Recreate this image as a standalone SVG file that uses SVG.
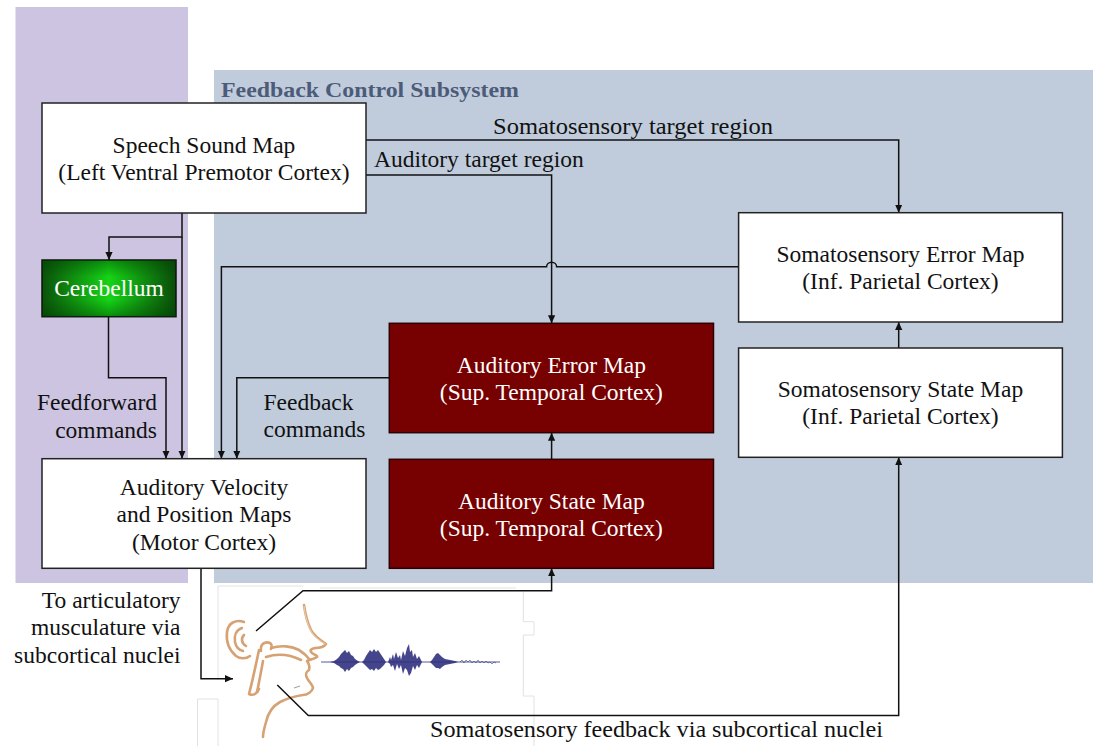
<svg xmlns="http://www.w3.org/2000/svg" width="1093" height="746" viewBox="0 0 1093 746">
<style>
.t{font-family:"Liberation Serif","Times New Roman",serif;font-size:23.5px;fill:#111;}
.w{fill:#fff;}
.m{text-anchor:middle;}
.e{text-anchor:end;}
.box{fill:#fff;stroke:#222;stroke-width:1.5;}
.red{fill:#770000;stroke:#2a0000;stroke-width:1.5;}
.c{fill:none;stroke:#111;stroke-width:1.5;}
.ca{fill:none;stroke:#111;stroke-width:1.5;marker-end:url(#ah);}
.head{fill:none;stroke:#d6a274;stroke-width:2.6;stroke-linecap:round;stroke-linejoin:round;}
.headin{fill:none;stroke:#f1dcc4;stroke-width:0.8;stroke-linecap:round;}
.faint{fill:none;stroke:#e2e2e2;stroke-width:1;}
.wave{fill:#2b2b7c;opacity:0.88;}
</style>
<defs>
<marker id="ah" markerWidth="8" markerHeight="8" refX="8" refY="4" orient="auto" markerUnits="userSpaceOnUse">
<path d="M0,0.4 L8,4 L0,7.6 z" fill="#111"/>
</marker>
<linearGradient id="gH" x1="0" y1="0" x2="1" y2="0">
<stop offset="0" stop-color="#0a520a"/>
<stop offset="0.5" stop-color="#16d416"/>
<stop offset="1" stop-color="#0a4c0a"/>
</linearGradient>
<linearGradient id="gV" x1="0" y1="0" x2="0" y2="1">
<stop offset="0" stop-color="#003a00" stop-opacity="0.45"/>
<stop offset="0.3" stop-color="#003a00" stop-opacity="0"/>
<stop offset="0.7" stop-color="#003a00" stop-opacity="0"/>
<stop offset="1" stop-color="#003a00" stop-opacity="0.45"/>
</linearGradient>
</defs>

<rect width="1093" height="746" fill="#fff"/>

<g id="panels">
<rect x="15.5" y="7" width="172.5" height="576" fill="#cdc4e2"/>
<rect x="214" y="70" width="879" height="513" fill="#c0ccdc"/>
<text x="221" y="97" font-family="Liberation Serif, Times New Roman, serif" font-size="21" font-weight="bold" fill="#4c5b78" textLength="298" lengthAdjust="spacingAndGlyphs">Feedback Control Subsystem</text>
</g>

<g id="head-image">
<path class="faint" d="M218,586 H303 M320,588 H516 M218,586 V680 M197.5,699 H218 M218,699 V746 M197.5,699 V746 M523.3,591.7 V621.7 H534 V635 H523.3 V696 H534 V746"/>
<!-- ear -->
<path class="head" d="M244,622 C236,619 228,623 227,632 C226,641 229,650 236,656 C240,659 246,659 250,656"/>
<path class="head" d="M242,628 C236,630 234,636 235,642 C236,647 239,650 243,651"/>
<path class="head" d="M244,635 C241,638 241,643 246,646"/>
<!-- profile -->
<path class="head" d="M304,605 C305,612 306,620 311,630 C314,636 320,640 326,644 C324,647 320,648 315,648 C311,649 309,650 312,653 C315,655 318,656 317,657 C314,659 309,660 307,661 C309,664 310,667 309,670 C306,672 305,674 307,678 C309,682 313,685 313,688 C312,692 307,695 303,695 C296,696 288,698 280,702 C273,706 268,713 266,722 C264,729 263,734 263,737"/>
<path class="headin" d="M304,606 C305,613 306,621 311,631 C314,637 320,641 325,644"/>
<!-- vocal tract -->
<path class="head" d="M261,651 C260,644 265,641 270,643 C272,644 272,647 271,649"/>
<path class="head" d="M271,648 C281,645 292,646 299,650 C304,653 307,656 310,660"/>
<path class="head" d="M266,657 C278,653 291,655 301,660"/>
<path class="head" d="M259,650 C256,664 253,679 249,694 C253,696 257,694 259,689"/>
<path class="head" d="M263,661 C261,672 259,683 257,692"/>
<path d="M294,688 L300,686" stroke="#9aa" stroke-width="1.2" fill="none"/>
<!-- waveform -->
<path d="M321,662 H500" stroke="#2b2b7c" stroke-width="1.2" fill="none" opacity="0.8"/>
<polygon class="wave" points="330,662 334,661 337,659 339,657 341,654 343,652 345,650 347,653 349,651 351,655 353,656 355,659 358,661 360,662 358,663 355,665 353,667 351,668 349,671 347,669 345,672 343,669 341,668 339,666 337,665 334,663"/>
<polygon class="wave" points="362,662 364,660 366,656 368,653 370,650 372,652 374,649 376,652 378,650 380,653 382,656 384,659 386,662 384,665 382,667 380,669 378,670 376,668 374,671 372,669 370,670 368,668 366,666 364,664"/>
<polygon class="wave" points="388,662 390,657 391,660 393,654 394,659 396,652 398,658 400,655 401,660 403,651 405,656 407,648 409,644 410,652 412,650 413,657 415,653 417,659 419,656 421,660 422,662 421,664 419,668 417,665 415,670 413,666 411,673 409,676 407,670 405,668 403,674 401,665 399,669 397,664 395,671 393,665 391,667 390,664"/>
<polygon class="wave" points="430,662 432,660 434,657 436,654 438,653 440,655 442,657 445,659 450,660 455,661 458,662 455,663 450,664 445,665 442,667 440,669 438,668 436,668 434,666 432,664"/>
<path d="M460,662 l2,-2 l2,3 l2,-3 l2,2 l2,-2 l2,3 l2,-2 l2,2 l2,-3 l2,3 l2,-2 l2,2 l2,-2 l2,2 l2,-1 l2,2 l2,-2 l2,1" stroke="#2b2b7c" stroke-width="0.9" fill="none" opacity="0.6"/>
</g>

<g id="connectors">
<path class="ca" d="M366,140 H898.7 V212.7"/>
<path class="ca" d="M366,175 H551.6 V323.3"/>
<path class="ca" d="M182,213 V237 H109 V260"/>
<path class="ca" d="M182,237 V458.7"/>
<path class="ca" d="M108.5,316.7 V377.7 H166 V458.7"/>
<path class="ca" d="M738.6,266.7 H556.6 A5,4.5 0 0 0 546.6,266.7 H221.4 V458.7"/>
<path class="ca" d="M389.3,377.7 H236.8 V458.7"/>
<path class="ca" d="M551.6,459.3 V432.7"/>
<path class="ca" d="M898.7,348 V322"/>
<path class="ca" d="M201,568.3 V678.7 H233"/>
<path class="ca" d="M256,631 L303,590.7 H551.6 V568.3"/>
<path class="ca" d="M277.3,685 L308.3,715.5 H898.7 V457.3"/>
</g>

<g id="speech-sound-map">
<rect class="box" x="42" y="103" width="324" height="110"/>
<text class="t m" x="204" y="153">Speech Sound Map</text>
<text class="t m" x="204" y="180">(Left Ventral Premotor Cortex)</text>
</g>

<g id="cerebellum">
<rect x="42" y="260" width="134" height="56.7" fill="url(#gH)" stroke="#111" stroke-width="1.5"/>
<rect x="42" y="260" width="134" height="56.7" fill="url(#gV)"/>
<text class="t m w" x="109" y="296">Cerebellum</text>
</g>

<g id="auditory-velocity-position-maps">
<rect class="box" x="42" y="458.7" width="324" height="109.6"/>
<text class="t m" x="204" y="495">Auditory Velocity</text>
<text class="t m" x="204" y="522">and Position Maps</text>
<text class="t m" x="204" y="550">(Motor Cortex)</text>
</g>

<g id="auditory-error-map">
<rect class="red" x="389.3" y="323.3" width="324.2" height="109.4"/>
<text class="t m w" x="551.4" y="372.5">Auditory Error Map</text>
<text class="t m w" x="551.4" y="400">(Sup. Temporal Cortex)</text>
</g>

<g id="auditory-state-map">
<rect class="red" x="389.3" y="459.3" width="324.2" height="109"/>
<text class="t m w" x="551.4" y="508.5">Auditory State Map</text>
<text class="t m w" x="551.4" y="535.5">(Sup. Temporal Cortex)</text>
</g>

<g id="somatosensory-error-map">
<rect class="box" x="738.6" y="212.7" width="323.8" height="109.3"/>
<text class="t m" x="900.5" y="262">Somatosensory Error Map</text>
<text class="t m" x="900.5" y="289">(Inf. Parietal Cortex)</text>
</g>

<g id="somatosensory-state-map">
<rect class="box" x="738.6" y="348" width="323.8" height="109.3"/>
<text class="t m" x="900.5" y="397">Somatosensory State Map</text>
<text class="t m" x="900.5" y="424">(Inf. Parietal Cortex)</text>
</g>

<g id="labels">
<text class="t" x="493" y="134" textLength="280" lengthAdjust="spacingAndGlyphs">Somatosensory target region</text>
<text class="t" x="374" y="167">Auditory target region</text>
<text class="t e" x="157" y="410">Feedforward</text>
<text class="t e" x="157" y="437.5">commands</text>
<text class="t" x="263.5" y="409.5">Feedback</text>
<text class="t" x="263.5" y="437">commands</text>
<text class="t e" x="180.5" y="607.5">To articulatory</text>
<text class="t e" x="180.5" y="635">musculature via</text>
<text class="t e" x="180.5" y="662.5">subcortical nuclei</text>
<text class="t" x="430" y="737" textLength="453" lengthAdjust="spacingAndGlyphs">Somatosensory feedback via subcortical nuclei</text>
</g>
</svg>
